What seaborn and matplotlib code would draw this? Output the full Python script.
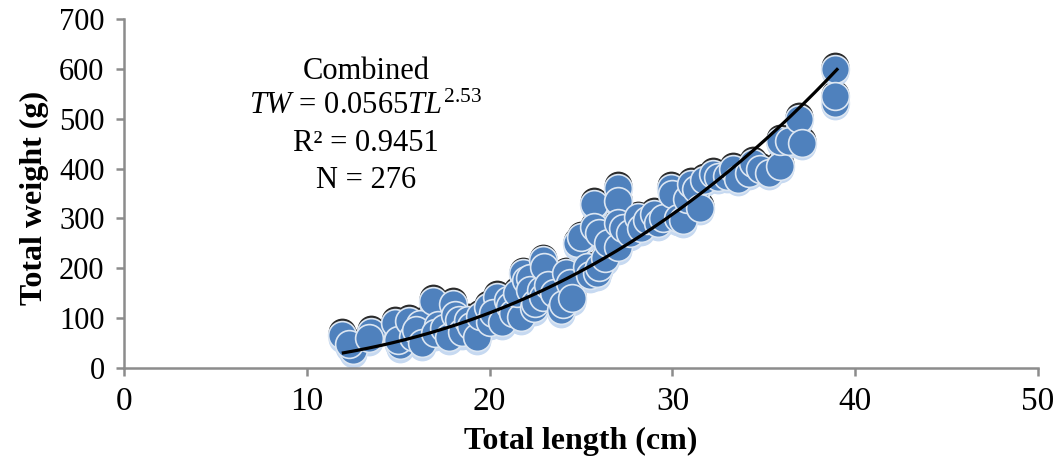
import numpy as np
import pandas as pd
import matplotlib
matplotlib.use('Agg')
import matplotlib.pyplot as plt
import matplotlib.transforms as mtransforms
import seaborn as sns

# Data
total_length = [11.9, 12.5, 12.3, 13.5, 13.4, 14.8, 15.1, 15.0, 15.6, 15.8, 16.2, 16.0, 16.3,
                16.9, 17.2, 17.0, 17.5, 17.8, 18.0, 18.1, 18.3, 18.5, 18.8, 19.0, 19.3, 19.5,
                19.9, 20.0, 20.4, 20.2, 20.7, 21.0, 21.1, 21.3, 21.7, 21.5, 21.8, 22.0, 22.2,
                22.2, 22.4, 22.5, 22.9, 22.8, 22.9, 23.0, 23.2, 23.5, 23.9, 24.0, 24.2, 24.4,
                24.5, 24.8, 25.0, 25.3, 25.5, 25.7, 25.7, 25.9, 26.0, 26.0, 26.3, 26.5, 27.0,
                27.0, 27.0, 27.0, 27.3, 27.7, 28.1, 28.3, 28.6, 29.0, 29.2, 29.5, 29.9, 30.0,
                30.3, 30.6, 30.8, 31.0, 31.3, 31.5, 31.7, 32.2, 32.5, 33.0, 33.3, 33.6, 34.2,
                34.4, 34.8, 35.3, 35.9, 35.9, 36.4, 36.9, 37.1, 38.9, 38.9, 38.9]
total_weight = [66, 36, 48, 72, 60, 90, 46, 56, 94, 62, 88, 76, 50,
                134, 86, 70, 80, 62, 128, 106, 96, 72, 96, 84, 62, 104,
                122, 92, 142, 110, 92, 136, 124, 110, 102, 150, 190, 176, 180,
                156, 120, 130, 216, 156, 142, 202, 166, 150, 116, 128, 190, 170,
                140, 250, 262, 202, 186, 330, 282, 190, 202, 270, 220, 250, 362,
                336, 290, 242, 280, 270, 302, 280, 296, 310, 290, 300, 362, 350,
                300, 296, 340, 370, 360, 322, 378, 390, 384, 386, 400, 380, 392,
                412, 400, 392, 406, 456, 456, 500, 452, 600, 532, 545]

# Fitted relationship shown on the chart
coef_a = 0.0565
coef_b = 2.53
fit_range = (12, 39)

df = pd.DataFrame({'TL': total_length, 'TW': total_weight})

plt.rcParams['font.family'] = ['Liberation Serif', 'DejaVu Serif']
plt.rcParams['mathtext.fontset'] = 'custom'
plt.rcParams['mathtext.rm'] = 'Liberation Serif'
plt.rcParams['mathtext.it'] = 'Liberation Serif:italic'

fig = plt.figure(figsize=(10.55, 4.67), dpi=100)
ax = fig.add_axes([0.1175, 0.212, 0.8665, 0.747])

# bevelled markers: dark rim on top, light rim below, blue face
layers = [('#2b2b2b', 2.0), ('#c6d9f1', -2.5), ('#4f81bd', 0)]
for color, dy in layers:
    sns.scatterplot(data=df, x='TL', y='TW', ax=ax, s=400, color=color,
                    edgecolor='#dce6f2' if dy == 0 else color,
                    linewidth=1.2 if dy == 0 else 0, legend=False, zorder=2)
    if dy != 0:
        ax.collections[-1].set_offset_transform(
            ax.transData + mtransforms.ScaledTranslation(0, dy / 72, fig.dpi_scale_trans))

xs = np.linspace(fit_range[0], fit_range[1], 200)
ax.plot(xs, coef_a * xs ** coef_b, color='black', lw=2.3, zorder=3)

ax.set_xlim(0, 50)
ax.set_ylim(0, 700)
ax.set_xticks(range(0, 51, 10))
ax.set_yticks(range(0, 701, 100))
for side in ['top', 'right']:
    ax.spines[side].set_visible(False)
for side in ['left', 'bottom']:
    ax.spines[side].set_color('#8c8c8c')
    ax.spines[side].set_linewidth(1.8)
ax.tick_params(axis='both', color='#8c8c8c', width=1.8, length=6, direction='out')
ax.tick_params(axis='x', labelsize=24, pad=7)
ax.tick_params(axis='y', labelsize=22, pad=8)

ax.set_xlabel('Total length (cm)', fontsize=23, fontweight='bold', va='center')
ax.set_ylabel('Total weight (g)', fontsize=23, fontweight='bold', va='center')
ax.xaxis.set_label_coords(0.5, -0.212)
ax.yaxis.set_label_coords(-0.098, 0.487)

tx = 13.24
ax.text(tx, 580, 'Combined', fontsize=22, ha='center', va='baseline')
ax.text(tx, 510, r'$TW$ = 0.0565$TL^{2.53}$', fontsize=22, ha='center', va='baseline')
ax.text(tx, 436, 'R² = 0.9451', fontsize=22, ha='center', va='baseline')
ax.text(tx, 362, 'N = 276', fontsize=22, ha='center', va='baseline')

fig.savefig('out.png', dpi=100)
